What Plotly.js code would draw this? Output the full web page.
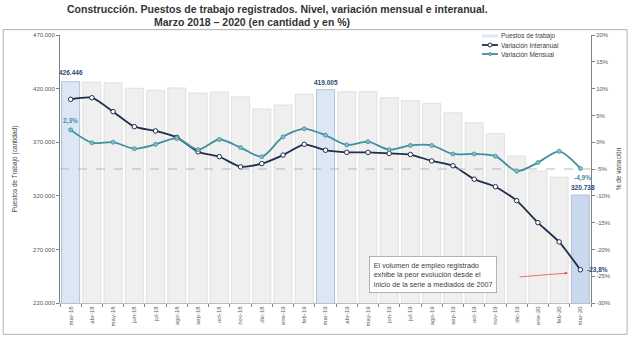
<!DOCTYPE html>
<html>
<head>
<meta charset="utf-8">
<script src="https://cdn.plot.ly/plotly-3.0.1.min.js"></script>
<style>
html,body{margin:0;padding:0;background:#fff;}
#chart{width:640px;height:338px;}
</style>
</head>
<body>
<div id="chart"></div>
<script>
const months = ["mar-18","abr-18","may-18","jun-18","jul-18","ago-18","sep-18","oct-18","nov-18","dic-18","ene-19","feb-19","mar-19","abr-19","may-19","jun-19","jul-19","ago-19","sep-19","oct-19","nov-19","dic-19","ene-20","feb-20","mar-20"];
const puestos = [426446,426000,425500,420300,418400,420600,415900,416800,412200,401000,404700,414900,419005,417100,417100,411500,408700,406200,397500,388200,378000,357100,343100,337300,320738];
const varInteranual = [8.0,8.3,5.7,2.9,2.1,0.9,-1.8,-2.7,-4.6,-4.0,-2.4,-0.4,-1.5,-1.9,-1.9,-2.1,-2.3,-3.5,-4.4,-6.9,-8.3,-10.9,-15.0,-18.6,-23.8];
const varMensual = [2.3,-0.1,0.0,-1.2,-0.4,0.7,-1.4,0.5,-1.0,-2.7,1.0,2.5,1.3,-0.5,0.1,-1.4,-0.6,-0.6,-2.2,-2.2,-2.6,-5.4,-3.8,-1.7,-4.9];
const highlighted = ["mar-18","mar-19","mar-20"];
const leftTicks = [220000,270000,320000,370000,420000,470000];
const rightTicks = [-30,-25,-20,-15,-10,-5,0,5,10,15,20];
const seriesNames = ["Puestos de trabajo","Variación Interanual","Variación Mensual"];

const barColors = months.map(m => m === "mar-20" ? "#c9d8ec" : (highlighted.includes(m) ? "#dde7f3" : "#efefef"));
const barLines = months.map(m => highlighted.includes(m) ? "#9fb6d3" : "#dcdcdc");

const navy = "#1f2e4c";
const teal = "#3f8f9e";
const FONT = "Liberation Sans, Arial, sans-serif";
const fmt = v => v.toLocaleString("de-DE");
const pct = v => v.toFixed(1).replace(".", ",") + "%";
const last = months.length - 1;
const iMar19 = months.indexOf("mar-19");

const traces = [
  {type:"bar", x:months, y:puestos, name:seriesNames[0], width:0.85,
   marker:{color:barColors, line:{color:barLines, width:0.8}}, hoverinfo:"skip"},
  {type:"scatter", mode:"lines+markers", x:months, y:varInteranual, yaxis:"y2", name:seriesNames[1],
   line:{color:navy, width:1.8, shape:"spline", smoothing:0.6},
   marker:{symbol:"circle", size:4.5, color:"#ffffff", line:{color:navy, width:1}}},
  {type:"scatter", mode:"lines+markers", x:months, y:varMensual, yaxis:"y2", name:seriesNames[2],
   line:{color:teal, width:1.8, shape:"spline", smoothing:0.8},
   marker:{symbol:"circle", size:4, color:"#7fc0cb", line:{color:teal, width:0.8}}}
];

const small = {family:FONT, size:6, color:"#595959"};

// compact legend (paper coordinates)
const px2x = p => (p - 60) / 531;
const py2y = p => (303 - p) / 268;
const legendRows = [36, 45, 54];
const legendShapes = [
  {type:"rect", xref:"paper", yref:"paper", x0:px2x(482), x1:px2x(498), y0:py2y(37.5), y1:py2y(34.5), fillcolor:"#dde7f3", line:{width:0}},
  {type:"line", xref:"paper", yref:"paper", x0:px2x(482), x1:px2x(498), y0:py2y(legendRows[1]), y1:py2y(legendRows[1]), line:{color:navy, width:1.8}},
  {type:"circle", xref:"paper", yref:"paper", x0:px2x(488), x1:px2x(492), y0:py2y(legendRows[1]+2), y1:py2y(legendRows[1]-2), fillcolor:"#ffffff", line:{color:navy, width:1}},
  {type:"line", xref:"paper", yref:"paper", x0:px2x(482), x1:px2x(498), y0:py2y(legendRows[2]), y1:py2y(legendRows[2]), line:{color:teal, width:1.8}},
  {type:"circle", xref:"paper", yref:"paper", x0:px2x(488.5), x1:px2x(491.5), y0:py2y(legendRows[2]+1.5), y1:py2y(legendRows[2]-1.5), fillcolor:"#7fc0cb", line:{color:teal, width:0.8}}
];
const legendTexts = seriesNames.map((n,i) => ({xref:"paper", yref:"paper", x:px2x(499), y:py2y(legendRows[i]), xanchor:"left", yanchor:"middle",
  text:n, showarrow:false, font:{family:FONT, size:6.5, color:"#404040"}}));

const layout = {
  width:640, height:338,
  margin:{l:60, r:49, t:35, b:35},
  paper_bgcolor:"#ffffff", plot_bgcolor:"rgba(0,0,0,0)",
  separators:",.",
  showlegend:false,
  bargap:0.15,
  xaxis:{type:"category", range:[-0.5, 24.5], tickangle:-90, tickfont:small,
         ticks:"outside", ticklen:3, tickcolor:"#808080", tickson:"boundaries",
         showline:true, linecolor:"#bfbfbf", linewidth:1, showgrid:false, zeroline:false},
  yaxis:{range:[220000,470000], tickvals:leftTicks, ticktext:leftTicks.map(fmt), tickfont:small,
         ticks:"outside", ticklen:3, tickcolor:"#808080", showline:true, linecolor:"#808080", linewidth:1,
         showgrid:false, zeroline:false,
         title:{text:"Puestos de Trabajo (cantidad)", font:{family:FONT, size:6.5, color:"#404040"}, standoff:14}},
  yaxis2:{range:[-30,20], overlaying:"y", side:"right", tickvals:rightTicks, ticktext:rightTicks.map(v=>v+"%"),
          tickfont:small, ticks:"outside", ticklen:3, tickcolor:"#808080", showline:true, linecolor:"#808080", linewidth:1,
          showgrid:false, zeroline:false,
          title:{text:"% de variación", font:{family:FONT, size:6.5, color:"#404040"}, standoff:6}},
  shapes:[
    {type:"line", xref:"paper", x0:0, x1:1, yref:"y2", y0:-5, y1:-5, line:{color:"#a8a8a8", width:0.8, dash:"dash"}, layer:"above"},
    {type:"rect", xref:"paper", yref:"paper", x0:-0.107, x1:1.068, y0:-0.117, y1:1.02, line:{color:"#b0b0b0", width:1}, fillcolor:"rgba(0,0,0,0)"}
  ].concat(legendShapes),
  annotations:[
    {xref:"paper", yref:"paper", x:0.41, y:1.097, text:"<b>Construcción. Puestos de trabajo registrados. Nivel, variación mensual e interanual.</b>", showarrow:false, xanchor:"center", yanchor:"middle",
     font:{family:FONT, size:10.5, color:"#333333"}},
    {xref:"paper", yref:"paper", x:0.362, y:1.048, text:"<b>Marzo 2018 – 2020 (en cantidad y en %)</b>", showarrow:false, xanchor:"center", yanchor:"middle",
     font:{family:FONT, size:10.5, color:"#333333"}},
    {x:months[0], y:puestos[0], yref:"y", text:"<b>"+fmt(puestos[0])+"</b>", showarrow:false, yanchor:"bottom", yshift:4,
     font:{family:FONT, size:6.5, color:"#2b4a78"}},
    {x:months[0], y:varMensual[0], yref:"y2", text:"<b>"+pct(varMensual[0])+"</b>", showarrow:false, yanchor:"bottom", yshift:3,
     font:{family:FONT, size:6.5, color:teal}},
    {x:months[iMar19], y:puestos[iMar19], yref:"y", text:"<b>"+fmt(puestos[iMar19])+"</b>", showarrow:false, yanchor:"bottom", yshift:2,
     font:{family:FONT, size:6.5, color:"#2b4a78"}},
    {x:months[last], y:varMensual[last], yref:"y2", text:"<b>"+pct(varMensual[last])+"</b>", showarrow:false, yanchor:"top", yshift:-4, xshift:2,
     font:{family:FONT, size:6.5, color:teal}},
    {x:months[last], y:puestos[last], yref:"y", text:"<b>"+fmt(puestos[last])+"</b>", showarrow:false, yanchor:"bottom", yshift:2, xshift:3,
     font:{family:FONT, size:6.5, color:"#2b4a78"}},
    {x:months[last], y:varInteranual[last], yref:"y2", text:"<b>"+pct(varInteranual[last])+"</b>", showarrow:false, xanchor:"left", xshift:5,
     font:{family:FONT, size:6.5, color:"#2b4a78"}},
    {xref:"paper", yref:"paper", x:px2x(369), y:py2y(274), xanchor:"left", yanchor:"middle", align:"left",
     text:"El volumen de empleo registrado<br>exhibe la peor evolución desde el<br>inicio de la serie a mediados de 2007",
     showarrow:false, bgcolor:"#ffffff", bordercolor:"#a0a0a0", borderwidth:0.8, borderpad:4,
     font:{family:FONT, size:7.2, color:"#404040"}},
    {xref:"paper", yref:"paper", x:px2x(568), y:py2y(273), ax:px2x(518), ay:py2y(277), axref:"paper", ayref:"paper",
     text:"", showarrow:true, arrowhead:2, arrowsize:0.8, arrowwidth:0.8, arrowcolor:"#e05050"}
  ].concat(legendTexts)
};

Plotly.newPlot("chart", traces, layout, {displayModeBar:false, staticPlot:true});
</script>
</body>
</html>
